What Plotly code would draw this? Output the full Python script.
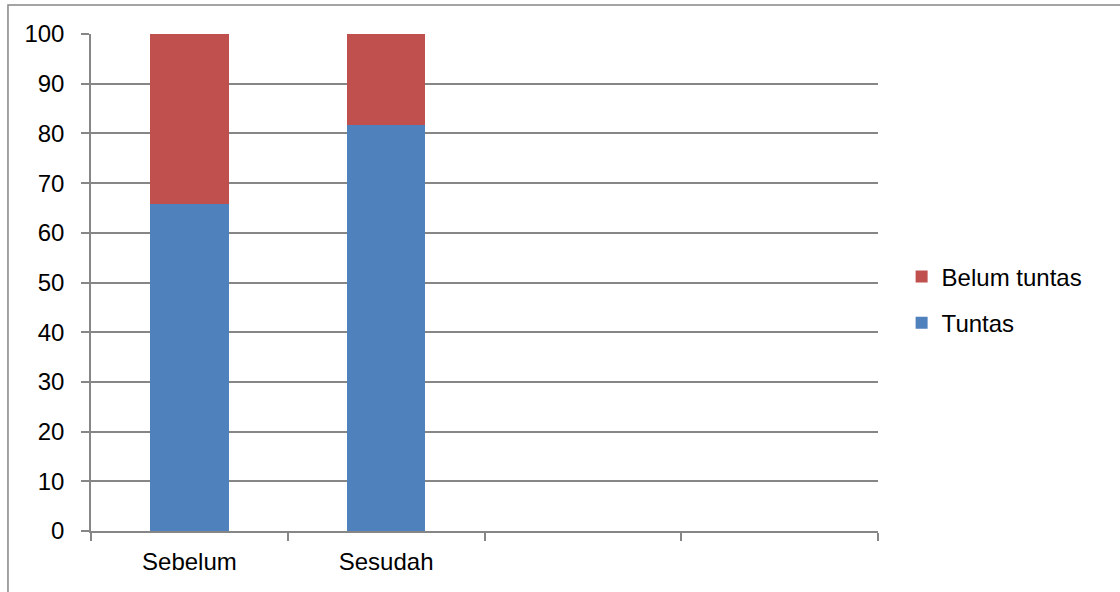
import plotly.graph_objects as go

# Kategori pada sumbu x (dua slot terakhir kosong)
categories = ["Sebelum", "Sesudah", " ", "  "]
bar_categories = ["Sebelum", "Sesudah"]

# Persentase siswa
tuntas = [65.7, 81.7]
belum_tuntas = [34.3, 18.3]

y_ticks = [0, 10, 20, 30, 40, 50, 60, 70, 80, 90, 100]

BLUE = "#4F81BD"
RED = "#C0504D"
GRID = "#868686"
FONT = "Liberation Sans, Arial, sans-serif"
FS = 24

fig = go.Figure()
fig.add_trace(go.Bar(
    x=bar_categories, y=tuntas, name="Tuntas",
    marker=dict(color=BLUE, line=dict(width=0)),
    width=0.4, legendgroup="a", legendrank=2,
))
fig.add_trace(go.Bar(
    x=bar_categories, y=belum_tuntas, name="Belum tuntas",
    marker=dict(color=RED, line=dict(width=0)),
    width=0.4, legendgroup="b", legendrank=1,
))

fig.update_layout(
    width=1120, height=592,
    margin=dict(l=91, r=242, t=34, b=61),
    barmode="stack",
    paper_bgcolor="white",
    plot_bgcolor="white",
    font=dict(family=FONT, size=FS, color="black"),
    showlegend=True,
    legend=dict(
        x=1.03, xanchor="left", xref="paper",
        y=0.465, yanchor="middle",
        traceorder="grouped",
        tracegroupgap=12,
        font=dict(size=FS),
        itemwidth=30,
    ),
    xaxis=dict(
        type="category",
        categoryorder="array", categoryarray=categories,
        range=[-0.5, 3.5],
        tickson="boundaries",
        ticks="outside", ticklen=8, tickcolor=GRID, tickwidth=1.5,
        showline=True, linecolor=GRID, linewidth=1.5,
        showgrid=False,
        ticklabelstandoff=8,
        tickfont=dict(size=FS),
    ),
    yaxis=dict(
        range=[0, 100],
        tickvals=y_ticks,
        ticks="outside", ticklen=8, tickcolor=GRID, tickwidth=1.5,
        showline=True, linecolor=GRID, linewidth=1.5,
        showgrid=True, gridcolor=GRID, gridwidth=1.5,
        zeroline=False,
        ticklabelstandoff=12,
        tickfont=dict(size=FS),
    ),
    shapes=[dict(
        type="rect", xref="paper", yref="paper",
        x0=-0.1055, x1=1.32, y0=-0.15, y1=1.0584,
        line=dict(color=GRID, width=1.5),
        fillcolor="rgba(0,0,0,0)",
        layer="below",
    )],
)

fig.write_html("out.html")
